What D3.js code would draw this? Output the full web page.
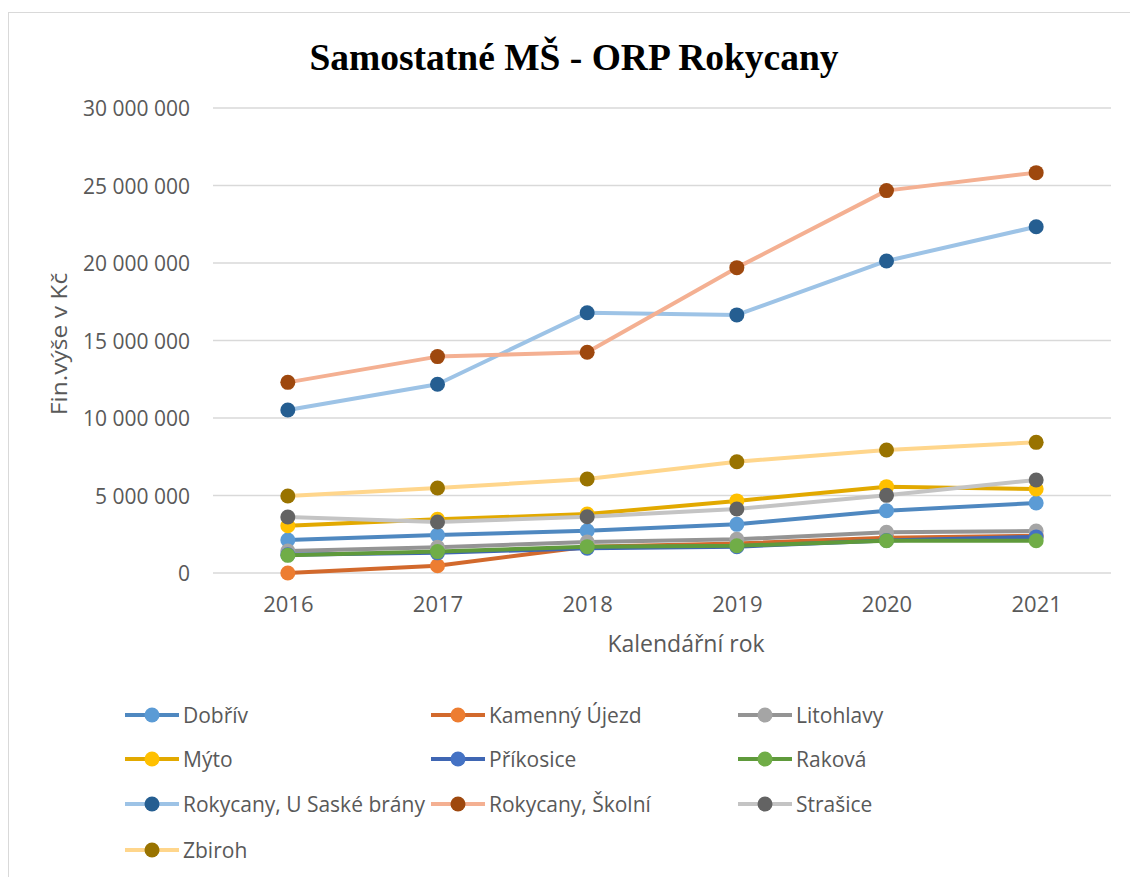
<!DOCTYPE html>
<html>
<head>
<meta charset="utf-8">
<script src="https://d3js.org/d3.v7.min.js"></script>
<style>
  body { margin: 0; background: #fff; }
  text { font-family: "Open Sans", sans-serif; fill: #595959; }
</style>
</head>
<body>
<svg id="chart" width="1130" height="877"></svg>
<script>
// values (Kč)
var years = ["2016", "2017", "2018", "2019", "2020", "2021"];
var names = ["Dobřív", "Kamenný Újezd", "Litohlavy", "Mýto", "Příkosice", "Raková",
             "Rokycany, U Saské brány", "Rokycany, Školní", "Strašice", "Zbiroh"];

var dobriv    = [2130000, 2450000, 2730000, 3140000, 4020000, 4520000];
var kamenny   = [0, 470000, 1700000, 1900000, 2280000, 2400000];
var litohlavy = [1420000, 1660000, 2000000, 2170000, 2630000, 2710000];
var myto      = [3050000, 3460000, 3800000, 4650000, 5570000, 5420000];
var prikosice = [1180000, 1300000, 1600000, 1700000, 2100000, 2330000];
var rakova    = [1140000, 1380000, 1700000, 1760000, 2080000, 2080000];
var saske     = [10520000, 12180000, 16790000, 16650000, 20130000, 22340000];
var skolni    = [12300000, 13960000, 14240000, 19700000, 24670000, 25830000];
var strasice  = [3610000, 3290000, 3630000, 4130000, 5010000, 6000000];
var zbiroh    = [4970000, 5480000, 6060000, 7180000, 7940000, 8430000];

var yTicks = [0, 5000000, 10000000, 15000000, 20000000, 25000000, 30000000];

var lineColours   = ["#4f88c0", "#d2692c", "#949494", "#e2a900", "#3f66b3", "#5f9a3b",
                     "#9dc3e6", "#f4b092", "#c4c4c4", "#ffd68c"];
var markerColours = ["#5b9bd5", "#ed7d31", "#a5a5a5", "#ffc000", "#4472c4", "#70ad47",
                     "#255e91", "#9e480e", "#636363", "#997300"];

var seriesValues = [dobriv, kamenny, litohlavy, myto, prikosice, rakova, saske, skolni, strasice, zbiroh];
var series = names.map(function (n, i) {
  return { name: n, values: seriesValues[i], line: lineColours[i], marker: markerColours[i] };
});

var svg = d3.select("#chart");

// chart frame
svg.append("rect")
  .attr("x", 8.5).attr("y", 12.5)
  .attr("width", 1130).attr("height", 880)
  .attr("fill", "none").attr("stroke", "#d9d9d9").attr("stroke-width", 1);

var x = d3.scalePoint().domain(years).range([213, 1111]).padding(0.5);
var y = d3.scaleLinear().domain([0, 30000000]).range([573, 108]);

// gridlines
svg.append("g").selectAll("line")
  .data(yTicks)
  .enter().append("line")
  .attr("x1", 213).attr("x2", 1111)
  .attr("y1", function (d) { return y(d) }).attr("y2", function (d) { return y(d) })
  .attr("stroke", "#d9d9d9").attr("stroke-width", 1.5);

// y axis labels
var fmt = function (d) { return d3.format(",")(d).replace(/,/g, " ") };
var yAxis = d3.axisLeft(y).tickValues(yTicks).tickFormat(fmt).tickSize(0).tickPadding(0);
var yg = svg.append("g").attr("transform", "translate(190,0)").call(yAxis);
yg.select(".domain").remove();
yg.selectAll("text").attr("dy", "0.36em")
  .style("font-size", "21px").style("font-family", "Open Sans").attr("fill", "#595959");

// x axis labels
var xAxis = d3.axisBottom(x).tickSize(0).tickPadding(0);
var xg = svg.append("g").attr("transform", "translate(0,596)").call(xAxis);
xg.select(".domain").remove();
xg.selectAll("text").style("font-size", "22px").style("font-family", "Open Sans").attr("fill", "#595959");

// titles
svg.append("text")
  .attr("x", 574).attr("y", 70)
  .attr("text-anchor", "middle")
  .style("font-family", "'Liberation Serif', 'Times New Roman', serif")
  .style("font-weight", "bold").style("font-size", "37.5px").style("fill", "#000")
  .text("Samostatné MŠ - ORP Rokycany");

svg.append("text")
  .attr("x", 686).attr("y", 652)
  .attr("text-anchor", "middle").style("font-size", "23px")
  .text("Kalendářní rok");

svg.append("text")
  .attr("transform", "translate(67,344) rotate(-90) scale(1.17,1)")
  .attr("text-anchor", "middle").style("font-size", "21px")
  .text("Fin.výše v Kč");

// series
var line = d3.line()
  .x(function (d, i) { return x(years[i]) })
  .y(function (d) { return y(d) });

series.forEach(function (s) {
  var g = svg.append("g");
  g.append("path")
    .attr("d", line(s.values))
    .attr("fill", "none").attr("stroke", s.line)
    .attr("stroke-width", 4).attr("stroke-linejoin", "round");
  g.selectAll("circle")
    .data(s.values)
    .enter().append("circle")
    .attr("cx", function (d, i) { return x(years[i]) })
    .attr("cy", function (d) { return y(d) })
    .attr("r", 7.5)
    .attr("fill", s.marker);
});

// legend, 3 columns
var colX = [125, 431, 738];
var rowY = [715, 759, 804, 850];
var leg = svg.append("g").selectAll("g")
  .data(series)
  .enter().append("g")
  .attr("transform", function (d, i) { return "translate(" + colX[i % 3] + "," + rowY[Math.floor(i / 3)] + ")" });
leg.append("line")
  .attr("x1", 0).attr("x2", 54).attr("y1", 0).attr("y2", 0)
  .attr("stroke", function (d) { return d.line }).attr("stroke-width", 4);
leg.append("circle")
  .attr("cx", 27).attr("cy", 0).attr("r", 7.5)
  .attr("fill", function (d) { return d.marker });
leg.append("text")
  .attr("x", 58).attr("y", 7.5)
  .style("font-size", "21px")
  .text(function (d) { return d.name });
</script>
</body>
</html>
